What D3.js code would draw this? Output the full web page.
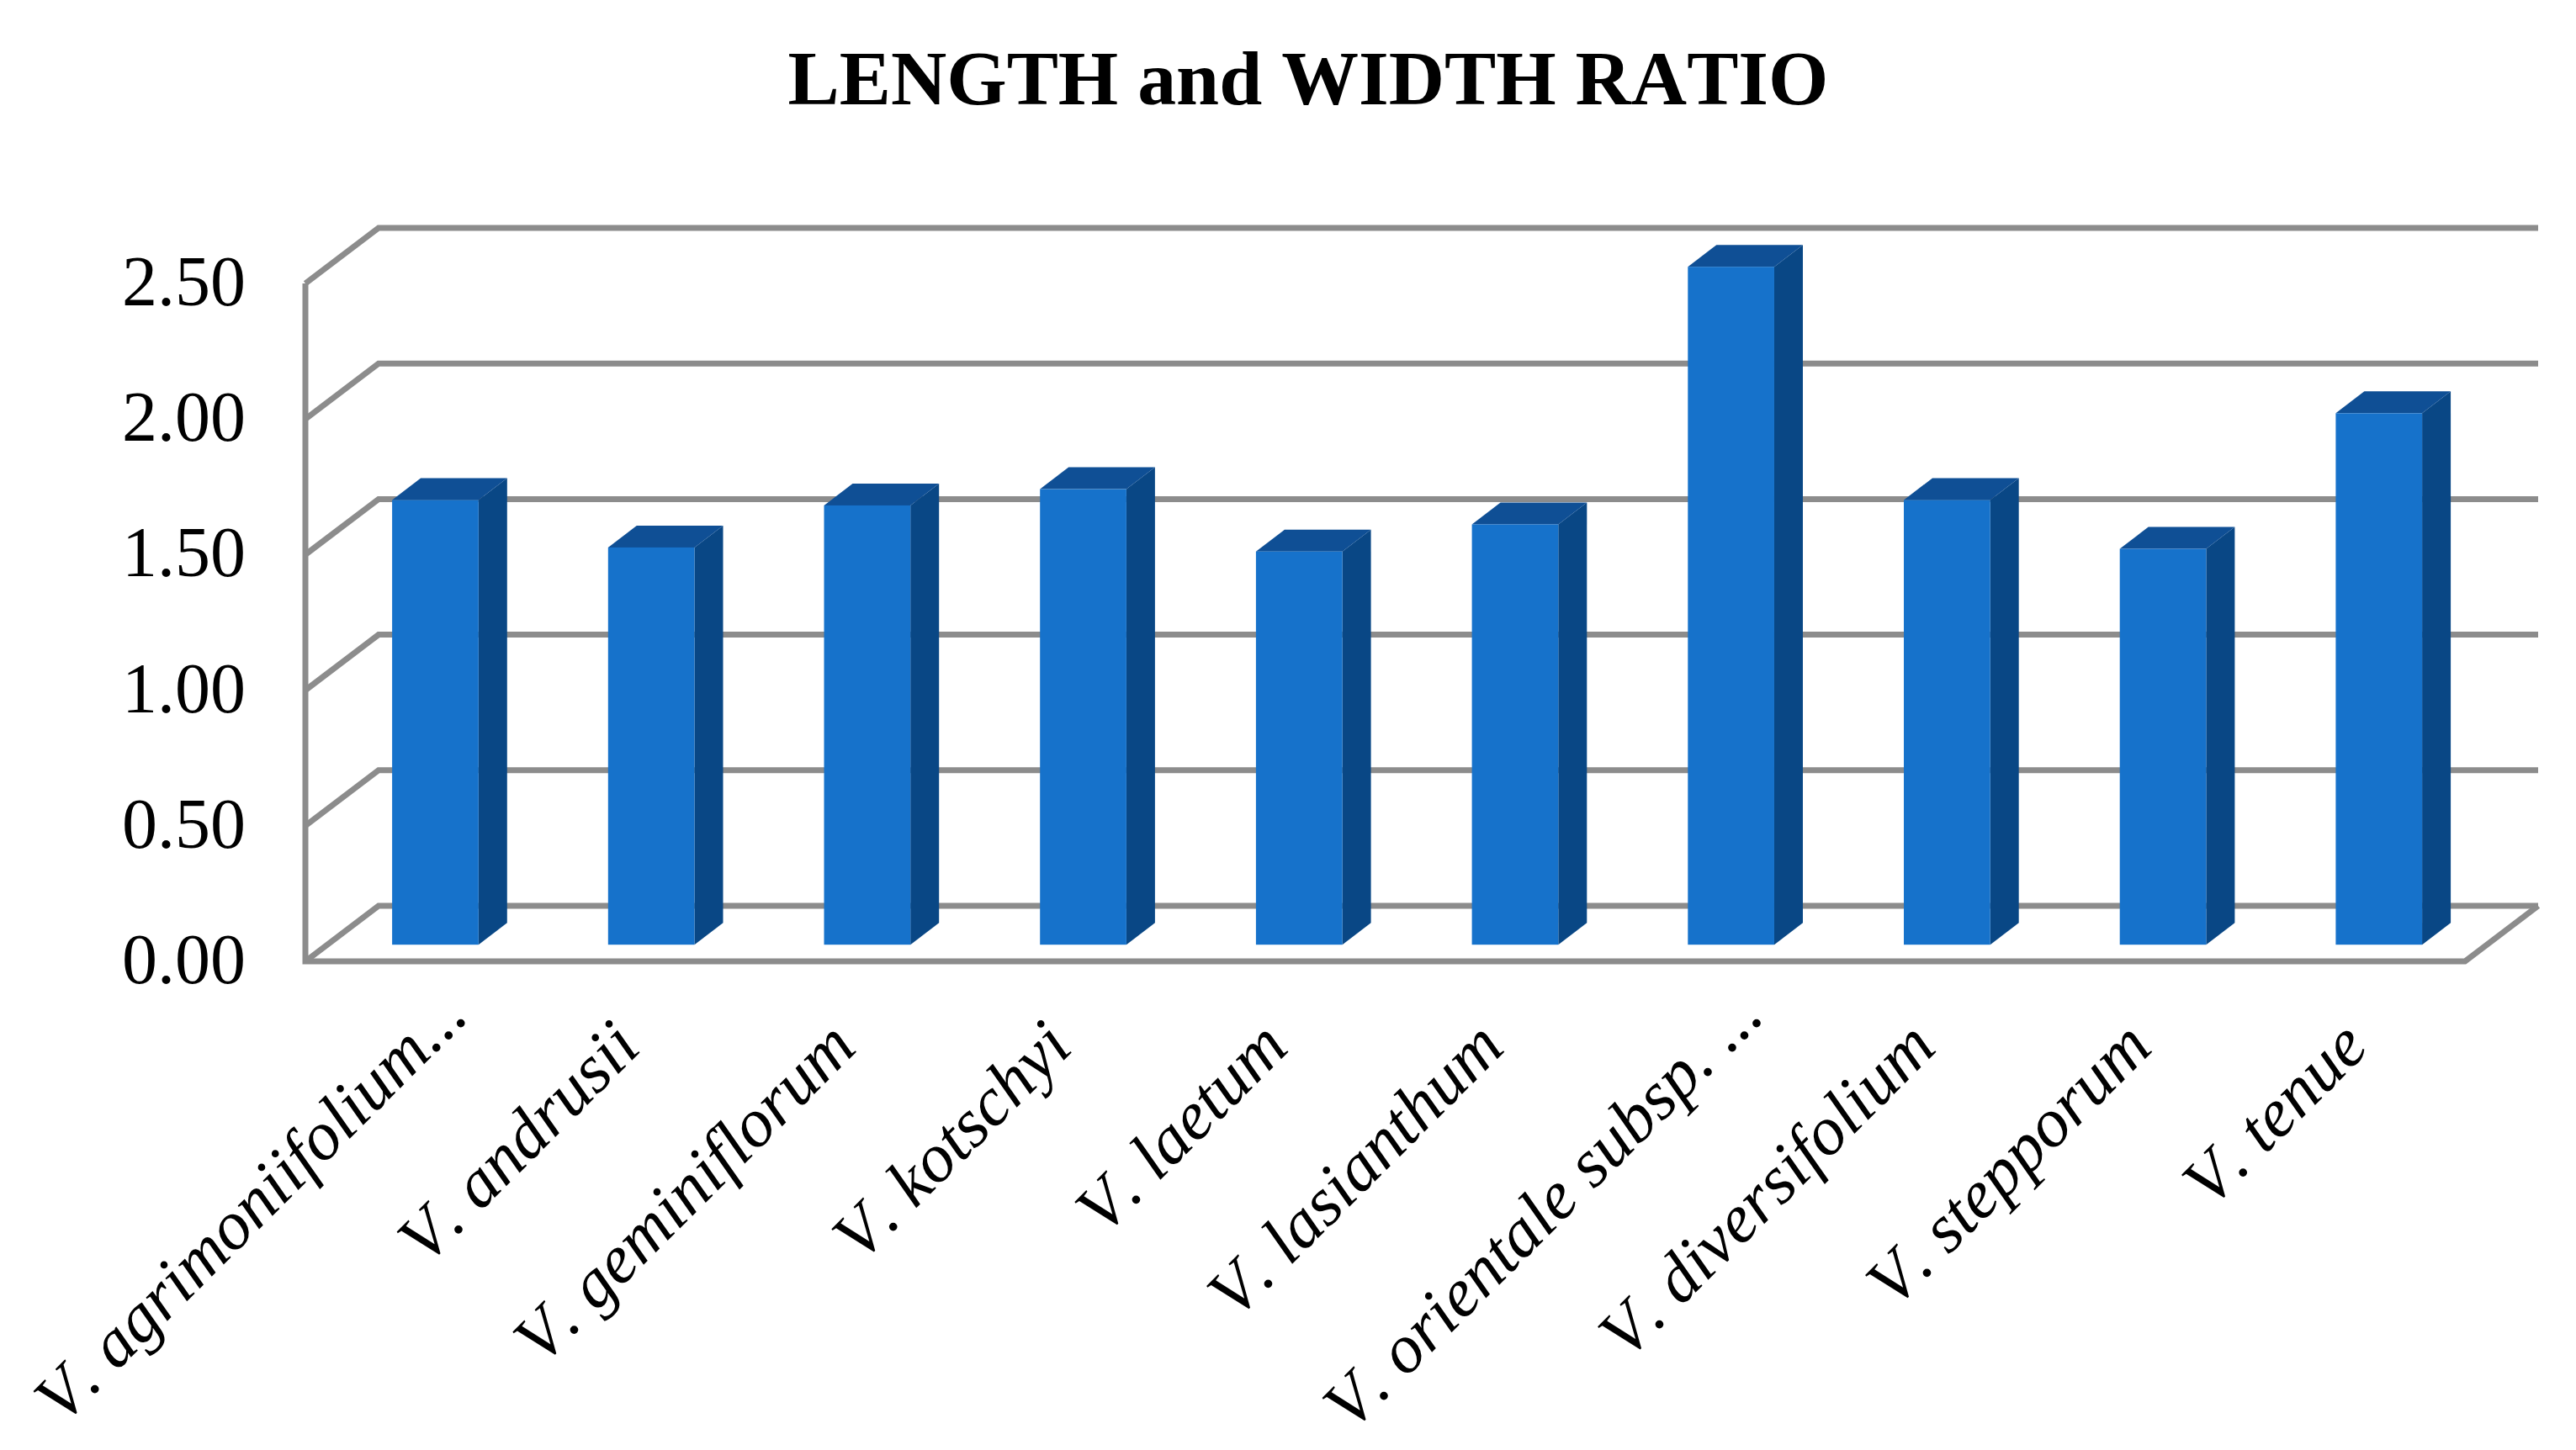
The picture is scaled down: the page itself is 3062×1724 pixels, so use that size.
<!DOCTYPE html>
<html>
<head>
<meta charset="utf-8">
<script src="https://cdn.jsdelivr.net/npm/d3@7"></script>
<style>
  html, body { margin: 0; background: #fff; }
  text { font-family: "Liberation Serif", serif; fill: #000; font-kerning: none; }
</style>
</head>
<body>
<script>
const species = ['V. agrimoniifolium...', 'V. andrusii', 'V. geminiflorum', 'V. kotschyi', 'V. laetum',
  'V. lasianthum', 'V. orientale subsp. ...', 'V. diversifolium', 'V. stepporum', 'V. tenue']
const ratios = [1.64, 1.465, 1.62, 1.68, 1.45, 1.55, 2.50, 1.64, 1.46, 1.96]
const yTicks = [0, 0.5, 1, 1.5, 2, 2.5]

const width = 3062
const height = 1724
const depthX = 87
const depthY = -66
const grey = '#8c8c8c'

const svg = d3.select('body').append('svg')
  .attr('width', width)
  .attr('height', height)
  .style('display', 'block')

const xScale = d3.scaleBand().domain(species).range([363, 2930]).paddingInner(0.6).paddingOuter(0.3)
const yScale = d3.scaleLinear().domain([0, 2.5]).range([1143, 337])

svg.append('text')
  .attr('x', 1555)
  .attr('y', 124)
  .attr('text-anchor', 'middle')
  .attr('font-size', 91.8)
  .attr('font-weight', 'bold')
  .text('LENGTH and WIDTH RATIO')

// walls and floor
const wall = svg.append('g').attr('fill', 'none').attr('stroke', grey).attr('stroke-width', 7)
const x0 = xScale.range()[0]
const x1 = xScale.range()[1]

wall.selectAll('path.grid')
  .data(yTicks)
  .join('path')
  .attr('class', 'grid')
  .attr('d', d => `M${x0},${yScale(d)}L${x0 + depthX},${yScale(d) + depthY}L${x1 + depthX},${yScale(d) + depthY}`)

wall.append('path')
  .attr('d', `M${x0},${yScale(2.5)}L${x0},${yScale(0)}L${x1},${yScale(0)}L${x1 + depthX},${yScale(0) + depthY}`)

svg.append('g')
  .selectAll('text')
  .data(yTicks)
  .join('text')
  .attr('x', 292)
  .attr('y', d => yScale(d) + 26)
  .attr('text-anchor', 'end')
  .attr('font-size', 84)
  .text(d => d3.format('.2f')(d))

// bars sit 30% back into the depth of the floor
const barOffsetX = depthX * 0.3
const barOffsetY = depthY * 0.3
const barDepthX = 34
const barDepthY = -26

const bars = svg.append('g')
  .selectAll('g')
  .data(species.map((name, i) => ({ name, value: ratios[i] })))
  .join('g')
  .attr('transform', `translate(${barOffsetX},${barOffsetY})`)

bars.append('path')
  .attr('fill', '#094785')
  .attr('d', d => {
    const r = xScale(d.name) + xScale.bandwidth()
    return `M${r},${yScale(d.value)}l${barDepthX},${barDepthY}V${yScale(0) + barDepthY}L${r},${yScale(0)}Z`
  })

bars.append('path')
  .attr('fill', '#0f4f95')
  .attr('d', d => {
    const l = xScale(d.name)
    const r = l + xScale.bandwidth()
    return `M${l},${yScale(d.value)}l${barDepthX},${barDepthY}H${r + barDepthX}L${r},${yScale(d.value)}Z`
  })

bars.append('rect')
  .attr('fill', '#1672cb')
  .attr('x', d => xScale(d.name))
  .attr('y', d => yScale(d.value))
  .attr('width', xScale.bandwidth())
  .attr('height', d => yScale(0) - yScale(d.value))

// truncated names run on a little past the others
svg.append('g')
  .selectAll('text')
  .data(species)
  .join('text')
  .attr('transform', d => `translate(${xScale(d) + xScale.bandwidth() / 2 + 16},1248) rotate(-45)`)
  .attr('dx', d => d.endsWith('...') ? 63 : 0)
  .attr('dy', d => d.endsWith('...') ? 10 : 0)
  .attr('text-anchor', 'end')
  .attr('font-size', 82)
  .attr('font-style', 'italic')
  .text(d => d)
</script>
</body>
</html>
